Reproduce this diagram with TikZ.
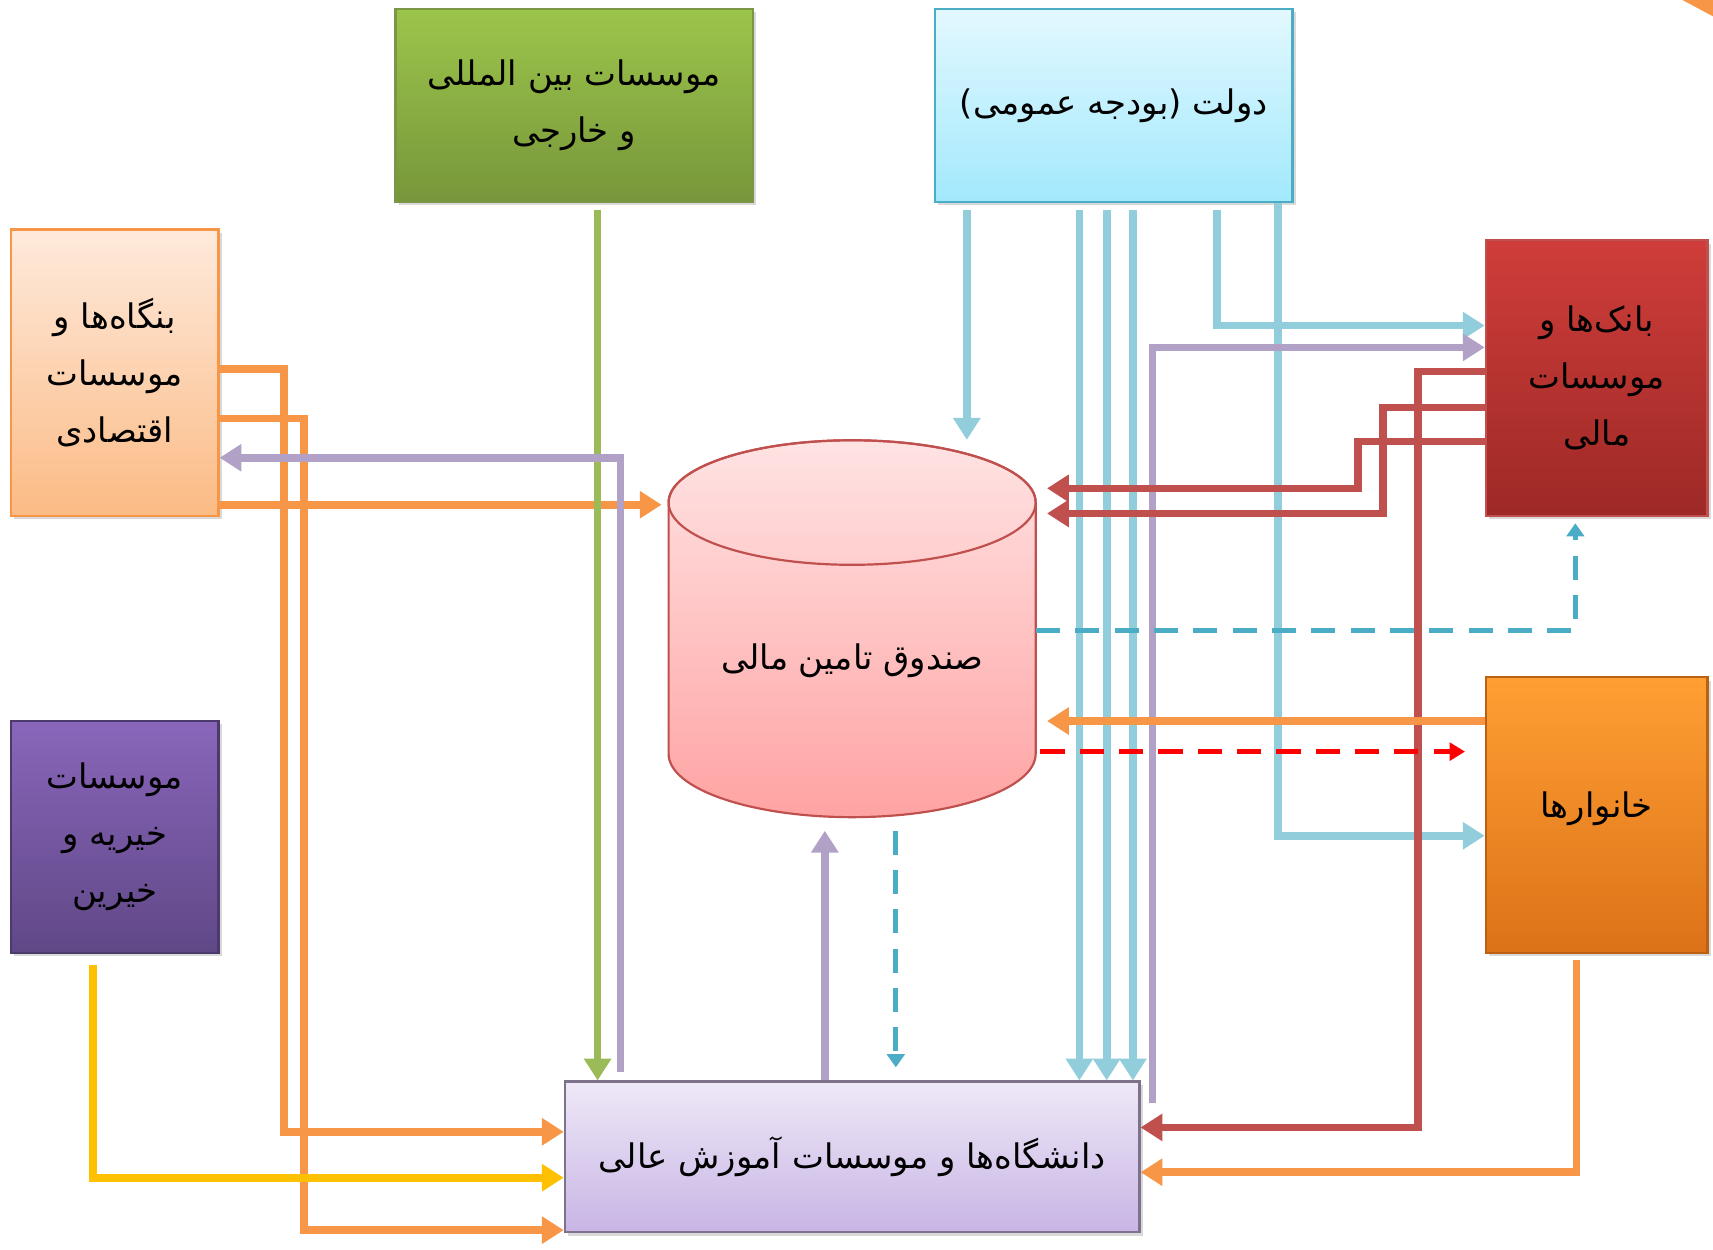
\documentclass[tikz,border=0pt]{standalone}
\usepackage{fontspec}
\newfontfamily\fa[Script=Arabic]{DejaVu Sans}
\TeXXeTstate=1
\usetikzlibrary{arrows.meta,fit,shadows}
\definecolor{cblue}{HTML}{92CDDC}
\definecolor{cpurple}{HTML}{B2A1C7}
\definecolor{corange}{HTML}{F79646}
\definecolor{cgreen}{HTML}{9BBB59}
\definecolor{cred}{HTML}{C0504D}
\definecolor{cdblue}{HTML}{4BACC6}
\definecolor{cbright}{HTML}{FF0000}
\definecolor{cyellow}{HTML}{FFC000}
\definecolor{greentop}{HTML}{9CC54B}
\definecolor{greenbot}{HTML}{77963A}
\definecolor{govtop}{HTML}{E3F8FE}
\definecolor{govbot}{HTML}{A2E9FD}
\definecolor{firmtop}{HTML}{FEEADC}
\definecolor{firmbot}{HTML}{FBBB85}
\definecolor{banktop}{HTML}{CF3D3A}
\definecolor{bankbot}{HTML}{9D2926}
\definecolor{chartop}{HTML}{8966BA}
\definecolor{charbot}{HTML}{604887}
\definecolor{hhtop}{HTML}{FF9F33}
\definecolor{hhbot}{HTML}{DC7218}
\definecolor{fundtop}{HTML}{FFE3E3}
\definecolor{fundbot}{HTML}{FFA3A3}
\definecolor{unitop}{HTML}{EEE8F7}
\definecolor{unibot}{HTML}{C8B5E5}
\newcommand{\rl}[1]{{\fa\beginR #1\endR}}
\begin{document}
\begin{tikzpicture}[x=0.5pt,y=-0.5pt,
  box/.style={line width=1pt, inner sep=0pt,
    drop shadow={shadow xshift=1.5pt, shadow yshift=-1.5pt, opacity=0.3}},
  boxtext/.style={align=center, inner sep=0pt, font=\fontsize{15.5}{26}\selectfont},
  conn/.style={line width=3.5pt, -{Triangle[length=10pt,width=12pt]}},
  oline/.style={conn, draw=corange},
  pline/.style={conn, draw=cpurple},
  gline/.style={conn, draw=cgreen},
  bline/.style={conn, draw=cblue},
  rline/.style={conn, draw=cred},
  yline/.style={conn, draw=cyellow},
  bdash/.style={line width=2.4pt, draw=cdblue, dash pattern=on 11pt off 7pt, -{Triangle[length=6pt,width=8pt]}},
  rdash/.style={line width=2.6pt, draw=cbright, dash pattern=on 11pt off 7pt, -{Triangle[length=7pt,width=8pt]}}
]
\useasboundingbox (0,0) rectangle (1568,1144);
\fill[corange] (1540,0) -- (1568,0) -- (1568,15) -- cycle;

% boxes
\node[box, fit={(362,8) (689,185)}, top color=greentop, bottom color=greenbot, draw=cgreen!80!black,
  label={[boxtext]center:{\rl{موسسات بین المللی}\\\rl{و خارجی}}}] (intl) {};
\node[box, fit={(856,8) (1183,185)}, top color=govtop, bottom color=govbot, draw=cdblue,
  label={[boxtext]center:{\rl{دولت (بودجه عمومی)}}}] (gov) {};
\node[box, fit={(10,210) (200,472)}, top color=firmtop, bottom color=firmbot, draw=corange,
  label={[boxtext]center:{\rl{بنگاه‌ها و}\\\rl{موسسات}\\\rl{اقتصادی}}}] (firms) {};
\node[box, fit={(1360,220) (1563,472)}, top color=banktop, bottom color=bankbot, draw=cred,
  label={[boxtext]center:{\rl{بانک‌ها و}\\\rl{موسسات}\\\rl{مالی}}}] (banks) {};
\node[box, fit={(10,660) (200,872)}, top color=chartop, bottom color=charbot, draw=charbot!80!black,
  label={[boxtext]center:{\rl{موسسات}\\\rl{خیریه و}\\\rl{خیرین}}}] (charity) {};
\node[box, fit={(1360,620) (1563,872)}, top color=hhtop, bottom color=hhbot, draw=hhbot!85!black,
  label={[boxtext, yshift=3pt]center:{\rl{خانوارها}}}] (hh) {};
\node[box, fit={(517,990) (1043,1128)}, top color=unitop, bottom color=unibot, draw=cpurple!70!black,
  label={[boxtext]center:{\rl{دانشگاه‌ها و موسسات آموزش عالی}}}] (univ) {};

% cylinder
\shadedraw[top color=fundtop, bottom color=fundbot, draw=cred, line width=1pt]
  (612,460) -- (612,690) arc[start angle=180, end angle=0, x radius=168, y radius=58]
  -- (948,460) arc[start angle=0, end angle=-180, x radius=168, y radius=57] -- cycle;
\draw[cred, line width=1pt] (780,460) ellipse[x radius=168, y radius=57];
\node[inner sep=0pt, fit={(612,403) (948,748)}] (fund) {};
\node[boxtext] (fundlabel) at (780,605) {\rl{صندوق تامین مالی}};
\coordinate (pstart) at (1055,1010);

% connectors
\draw[oline] (firms.east |- 0,338) -| (260,1036) -- (univ.west |- 0,1036);
\draw[oline] (firms.east |- 0,383) -| (278,1126) -- (univ.west |- 0,1126);
\draw[oline, shorten >=3pt] (firms.east |- 0,462) -- (fund.west |- 0,462);
\draw[gline, shorten <=3pt] (intl.south -| 547,0) -- (univ.north -| 547,0);
\draw[pline, shorten <=4pt] (univ.north -| 568,0) -- (568,419) -- (firms.east |- 0,419);
\draw[pline, shorten >=6pt] (univ.north -| 755,0) -- (fund.south -| 755,0);
\draw[bdash, shorten <=6pt, shorten >=6pt] (fund.south -| 820,0) -- (univ.north -| 820,0);
\draw[bline, shorten <=3pt] (gov.south -| 885,0) -- (fund.north -| 885,0);
\draw[bline, shorten <=3pt] (gov.south -| 988,0) -- (univ.north -| 988,0);
\draw[bline, shorten <=3pt] (gov.south -| 1013,0) -- (univ.north -| 1013,0);
\draw[bline, shorten <=3pt] (gov.south -| 1037,0) -- (univ.north -| 1037,0);
\draw[bline, shorten <=3pt] (gov.south -| 1114,0) |- (banks.west |- 0,298);
\draw[bline] (gov.south -| 1170,0) |- (hh.west |- 0,765);
\draw[pline] (pstart) |- (banks.west |- 0,318);
\draw[rline] (banks.west |- 0,340) -| (1298,1032) -- (univ.east |- 0,1032);
\draw[rline, shorten >=5pt] (banks.west |- 0,373) -| (1266,470) -- (fund.east |- 0,470);
\draw[rline, shorten >=5pt] (banks.west |- 0,404) -| (1243,447) -- (fund.east |- 0,447);
\draw[bdash, shorten >=3pt] (fund.east |- 0,577) -| (banks.south -| 1442,0);
\draw[oline, shorten >=5pt] (hh.west |- 0,660) -- (fund.east |- 0,660);
\draw[rdash, shorten <=2pt, shorten >=9pt] (fund.east |- 0,688) -- (hh.west |- 0,688);
\draw[oline, shorten <=3pt] (hh.south -| 1443,0) |- (univ.east |- 0,1073);
\draw[yline, shorten <=5pt] (charity.south -| 85,0) |- (univ.west |- 0,1078);
\end{tikzpicture}
\end{document}
